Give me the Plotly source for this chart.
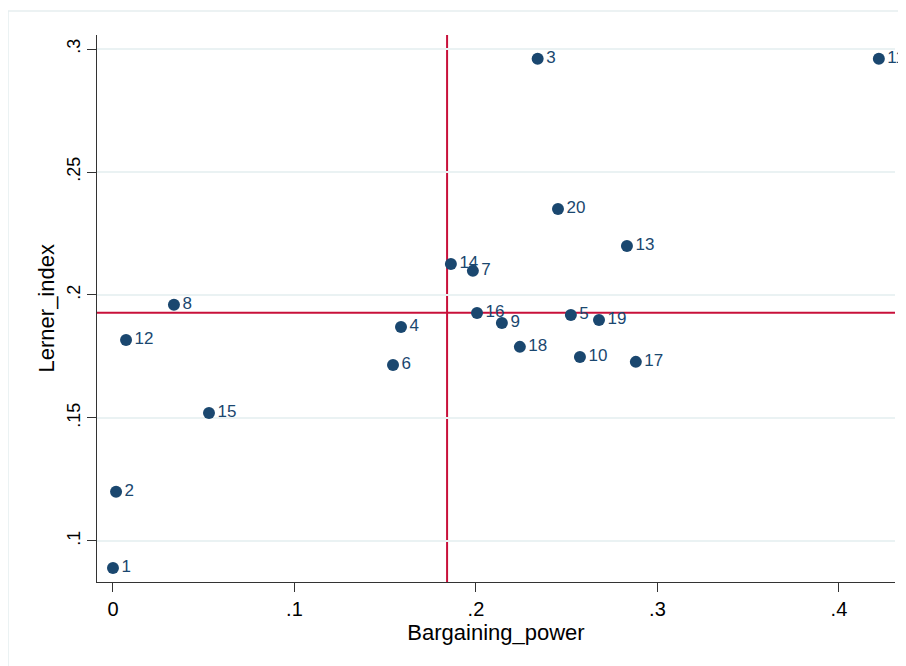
import plotly.graph_objects as go
import numpy as np

labels = [str(i) for i in range(1, 21)]
bargaining_power = [0.000, 0.0017, 0.234, 0.1587, 0.2523, 0.1543, 0.1983, 0.0336, 0.2143, 0.2573,
                    0.422, 0.0072, 0.2832, 0.1862, 0.0529, 0.2006, 0.2881, 0.2242, 0.2678, 0.2452]
lerner_index = [0.089, 0.120, 0.296, 0.187, 0.1919, 0.1715, 0.2098, 0.196, 0.1886, 0.1748,
                0.296, 0.1817, 0.2199, 0.2126, 0.152, 0.1927, 0.1728, 0.1789, 0.1898, 0.235]
x_ticks = [0, 0.1, 0.2, 0.3, 0.4]
x_ticktext = ["0", ".1", ".2", ".3", ".4"]
y_ticks = [0.1, 0.15, 0.2, 0.25, 0.3]
y_ticktext = [".1", ".15", ".2", ".25", ".3"]

x_mean = float(np.mean(bargaining_power))
y_mean = float(np.mean(lerner_index))

navy = "#1a476f"
red = "#c8103a"
font = "Liberation Sans, Arial, sans-serif"

fig = go.Figure()
fig.add_trace(go.Scatter(
    x=bargaining_power, y=lerner_index, text=labels,
    mode="markers+text", textposition="middle right",
    marker=dict(size=12, color=navy),
    textfont=dict(size=17, color=navy, family=font),
    cliponaxis=False, showlegend=False,
))

fig.add_shape(type="line", xref="x", yref="paper", x0=x_mean, x1=x_mean, y0=0, y1=1,
              line=dict(color=red, width=2), layer="below")
fig.add_shape(type="line", xref="paper", yref="y", x0=0, x1=1, y0=y_mean, y1=y_mean,
              line=dict(color=red, width=2), layer="below")
# outer light frame
fig.add_shape(type="path", xref="paper", yref="paper",
              path="M -0.1115 -0.2 L -0.1115 1.0439 L 1.05 1.0439",
              line=dict(color="#e6eef0", width=1.5))

fig.add_annotation(text="Lerner_index", xref="paper", yref="paper",
                   x=-0.0627, y=0.5, xanchor="center", yanchor="middle",
                   textangle=-90, showarrow=False, font=dict(size=22, family=font, color="black"))

fig.update_layout(
    width=898, height=658,
    margin=dict(l=89, r=11, t=27, b=84),
    paper_bgcolor="white", plot_bgcolor="white",
    font=dict(family=font, color="black", size=20),
    xaxis=dict(
        range=[-0.0088, 0.4309], tickvals=x_ticks, ticktext=x_ticktext,
        showgrid=False, zeroline=False, showline=True, linecolor="#333333", linewidth=1,
        ticks="outside", ticklen=9, tickcolor="#333333", tickfont=dict(size=20),
        title=dict(text="Bargaining_power", font=dict(size=22), standoff=2),
    ),
    yaxis=dict(
        range=[0.0833, 0.3057], tickvals=y_ticks, ticktext=y_ticktext, tickangle=-90,
        showgrid=True, gridcolor="#eaf2f3", gridwidth=2, zeroline=False,
        showline=True, linecolor="#333333", linewidth=1,
        ticks="outside", ticklen=9, tickcolor="#333333", tickfont=dict(size=18),
    ),
)

fig.write_html("out.html")
